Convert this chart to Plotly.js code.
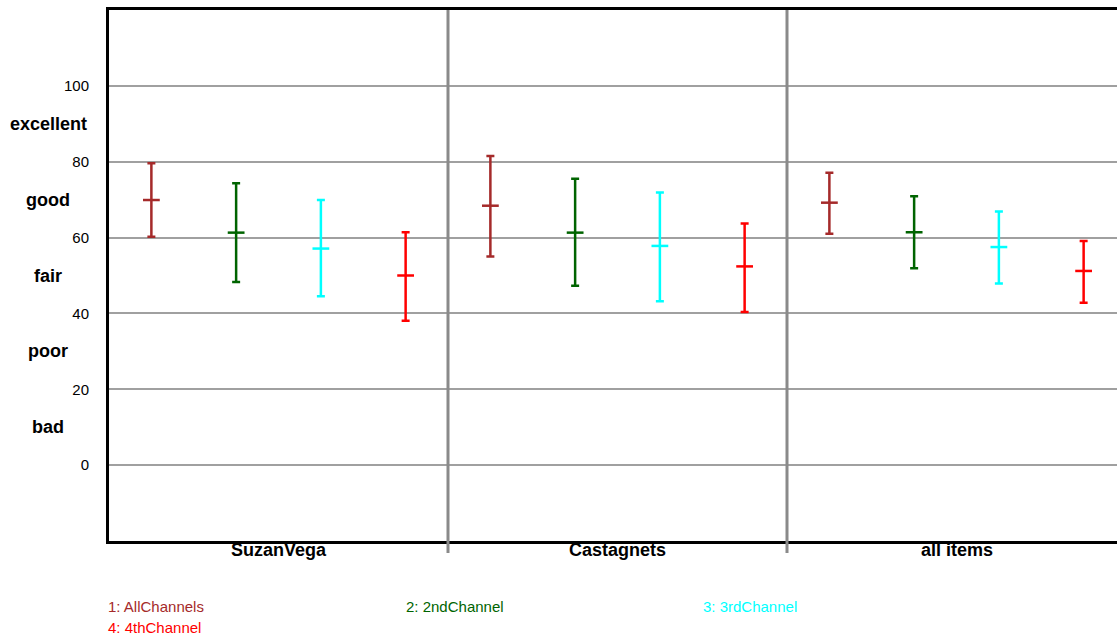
<!DOCTYPE html>
<html>
<head>
<meta charset="utf-8">
<script src="https://cdn.plot.ly/plotly-3.0.1.min.js"></script>
<style>html,body{margin:0;padding:0;background:#fff;}</style>
</head>
<body>
<div id="chart" style="width:1117px;height:637px;"></div>
<script>
// Data
const groups = ['SuzanVega', 'Castagnets', 'all items'];
const seriesNames = ['1: AllChannels', '2: 2ndChannel', '3: 3rdChannel', '4: 4thChannel'];
const seriesColors = ['#a52a2a', '#006400', '#00ffff', '#ff0000'];
const means = [
  [69.9, 68.4, 69.2],
  [61.3, 61.3, 61.4],
  [57.1, 57.8, 57.5],
  [50.0, 52.4, 51.2]
];
const upper = [
  [79.6, 81.5, 77.1],
  [74.3, 75.5, 70.9],
  [69.9, 71.9, 66.9],
  [61.4, 63.7, 59.1]
];
const lower = [
  [60.2, 55.0, 61.0],
  [48.3, 47.3, 51.9],
  [44.5, 43.2, 47.9],
  [38.1, 40.4, 42.8]
];
const yTicks = [0, 20, 40, 60, 80, 100];
const ratingLabels = ['bad', 'poor', 'fair', 'good', 'excellent'];
const ratingValues = [10, 30, 50, 70, 90];

const FONT = 'Liberation Sans, Arial, sans-serif';
const nS = seriesNames.length;
const traces = seriesNames.map((name, s) => {
  const xs = groups.map((g, gi) => gi + (s + 0.5) / nS);
  return {
    type: 'scatter', mode: 'markers', name: name,
    x: xs, y: means[s],
    marker: {symbol: 'line-ew', size: 12, color: seriesColors[s], line: {color: seriesColors[s], width: 2.5}},
    error_y: {
      type: 'data', symmetric: false,
      array: means[s].map((m, i) => upper[s][i] - m),
      arrayminus: means[s].map((m, i) => m - lower[s][i]),
      color: seriesColors[s], thickness: 2.5, width: 4
    },
    hoverinfo: 'skip', showlegend: false
  };
});

const L = 109;
const plotW = 1117 - L, plotH = 637 - 10 - 96;
const annotations = [];
ratingLabels.forEach((t, i) => {
  annotations.push({
    text: '<b>' + t + '</b>', xref: 'paper', yref: 'y',
    x: (48 - L) / plotW, y: ratingValues[i], xanchor: 'center', yanchor: 'middle',
    showarrow: false, font: {family: FONT, size: 18, color: '#000'}
  });
});
groups.forEach((g, i) => {
  annotations.push({
    text: '<b>' + g + '</b>', xref: 'x', yref: 'paper',
    x: i + 0.5, y: (541 - 550) / plotH, xanchor: 'center', yanchor: 'middle',
    showarrow: false, font: {family: FONT, size: 18, color: '#000'}
  });
});
seriesNames.forEach((t, s) => {
  const col = s % 3, row = Math.floor(s / 3);
  annotations.push({
    text: t, xref: 'paper', yref: 'paper',
    x: (col * 297.5 - 3) / plotW, y: (541 - (606 + row * 21)) / plotH,
    xanchor: 'left', yanchor: 'middle', showarrow: false,
    font: {family: FONT, size: 15, color: seriesColors[s]}
  });
});

const shapes = [];
for (let g = 1; g < groups.length; g++) {
  shapes.push({type: 'line', xref: 'x', yref: 'paper', x0: g, x1: g, y0: -12 / plotH, y1: 1,
    line: {color: '#8a8a8a', width: 3}, layer: 'above'});
}

const layout = {
  width: 1117, height: 637,
  margin: {l: L, r: 0, t: 10, b: 96},
  paper_bgcolor: '#fff', plot_bgcolor: '#fff',
  showlegend: false,
  font: {family: FONT, color: '#000'},
  xaxis: {
    range: [0, plotW / 339], showgrid: false, zeroline: false,
    showticklabels: false, ticks: '',
    showline: true, linecolor: '#000', linewidth: 3, mirror: true
  },
  yaxis: {
    range: [-20, 120], tickvals: yTicks, ticktext: yTicks.map(String),
    tickfont: {family: FONT, size: 15, color: '#000'},
    ticks: 'outside', ticklen: 14, tickcolor: 'rgba(0,0,0,0)',
    showgrid: true, gridcolor: '#a0a0a0', gridwidth: 2,
    zeroline: false, showline: true, linecolor: '#000', linewidth: 3
  },
  annotations: annotations,
  shapes: shapes
};

Plotly.newPlot('chart', traces, layout, {staticPlot: true, displayModeBar: false});
</script>
</body>
</html>
